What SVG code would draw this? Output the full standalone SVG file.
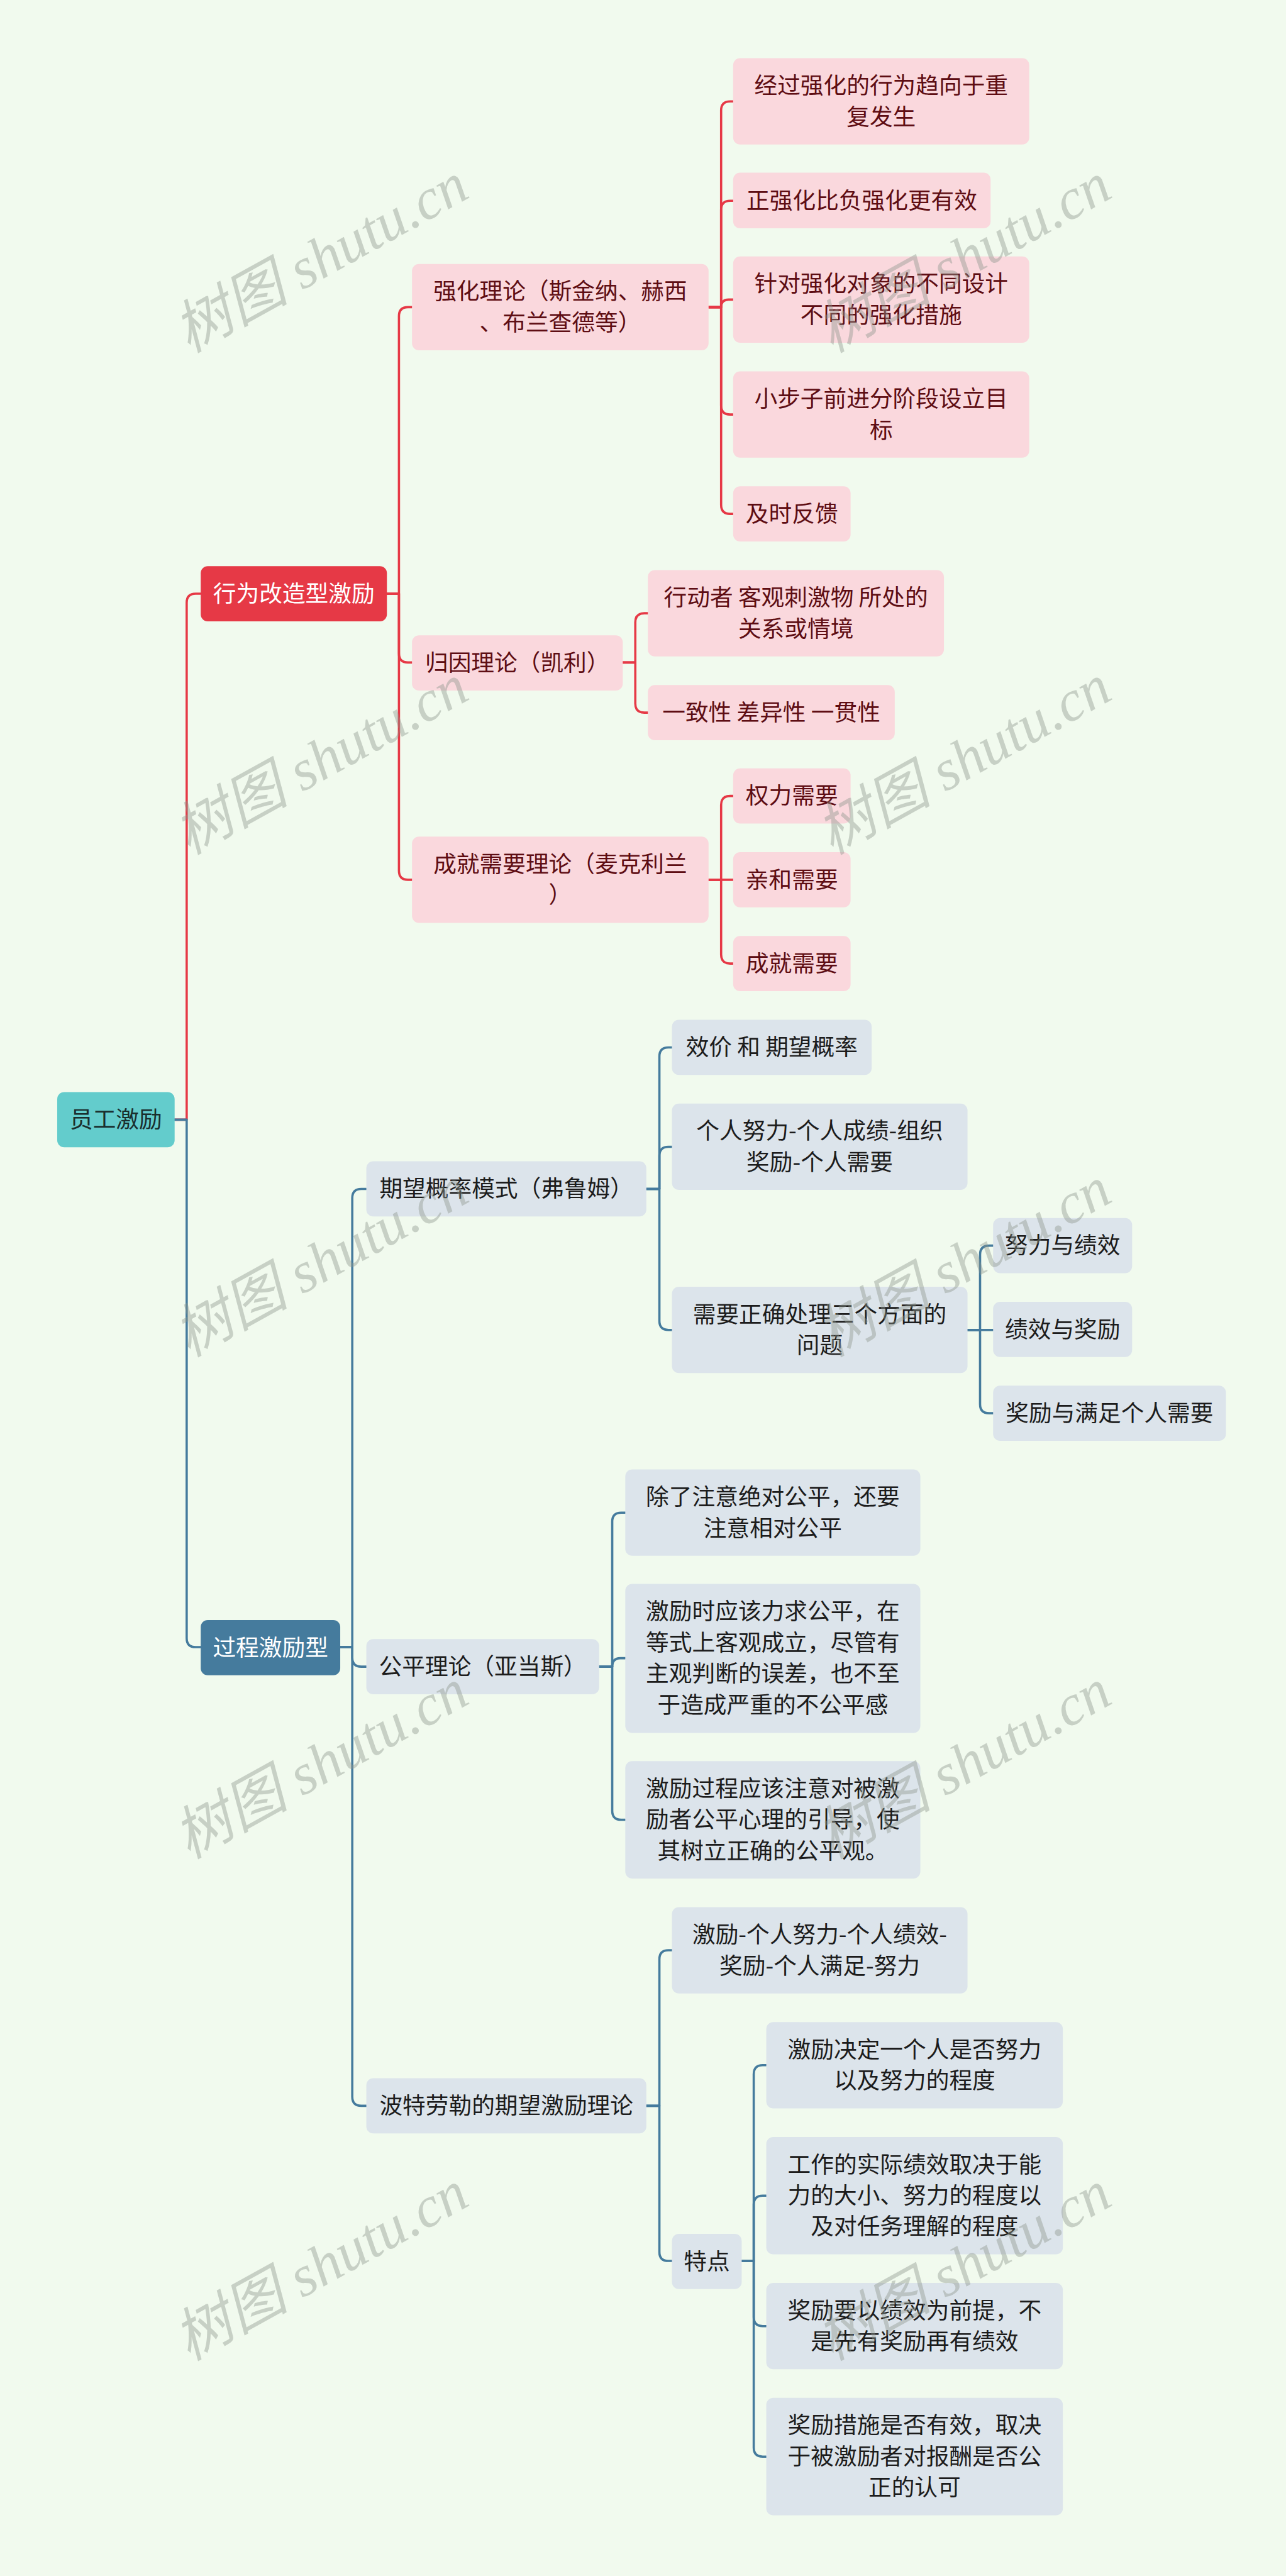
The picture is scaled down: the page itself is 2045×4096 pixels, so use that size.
<svg xmlns="http://www.w3.org/2000/svg" width="2045" height="4096" viewBox="0 0 2045 4096">
<style>
.bg{fill:#f1faee}
.c{fill:none;stroke-width:4.5;stroke-linecap:round;stroke-linejoin:round}
.cr{stroke:#e63946}
.cb{stroke:#457b9d}
.t{font-family:"Noto Sans CJK SC","Liberation Sans",sans-serif;font-size:46px;text-anchor:middle}
.root rect{fill:#63cccc}
.root text{fill:#1a2e2e}
.l1r rect{fill:#e63946}
.l1r text{fill:#ffffff}
.l1b rect{fill:#457b9d}
.l1b text{fill:#ffffff}
.pk rect{fill:#fad8dd}
.pk text{fill:#5e0d13}
.bl rect{fill:#dce4eb}
.bl text{fill:#1c1c1c}
.wm{font-family:"Liberation Serif","Noto Sans CJK SC",serif;font-style:italic;font-size:115px;fill:#8c968c;fill-opacity:0.42;text-anchor:middle}
</style>
<rect class="bg" x="0" y="0" width="2045" height="4096"/>
<g transform="scale(0.798)">
<g id="connectors">
<path class="c cr" d="M348 2231 H372 V1201 Q372 1183 390 1183 H400"/>
<path class="c cb" d="M348 2231 H372 V3264 Q372 3282 390 3282 H400"/>
<path class="c cr" d="M771 1183 H795 V630 Q795 612 813 612 H821"/>
<path class="c cr" d="M771 1183 H795 V1302 Q795 1320 813 1320 H821"/>
<path class="c cr" d="M771 1183 H795 V1735 Q795 1753 813 1753 H821"/>
<path class="c cr" d="M1412 612 H1437 V220 Q1437 202 1455 202 H1461"/>
<path class="c cr" d="M1412 612 H1437 V418 Q1437 400 1455 400 H1461"/>
<path class="c cr" d="M1412 612 H1437 Q1437 597 1452 597 H1461"/>
<path class="c cr" d="M1412 612 H1437 V808 Q1437 826 1455 826 H1461"/>
<path class="c cr" d="M1412 612 H1437 V1006 Q1437 1024 1455 1024 H1461"/>
<path class="c cr" d="M1241 1320 H1266 V1240 Q1266 1222 1284 1222 H1291"/>
<path class="c cr" d="M1241 1320 H1266 V1402 Q1266 1420 1284 1420 H1291"/>
<path class="c cr" d="M1412 1753 H1437 V1604 Q1437 1586 1455 1586 H1461"/>
<path class="c cr" d="M1412 1753 H1461"/>
<path class="c cr" d="M1412 1753 H1437 V1902 Q1437 1920 1455 1920 H1461"/>
<path class="c cb" d="M678 3282 H702 V2387 Q702 2369 720 2369 H730"/>
<path class="c cb" d="M678 3282 H702 V3303 Q702 3321 720 3321 H730"/>
<path class="c cb" d="M678 3282 H702 V4178 Q702 4196 720 4196 H730"/>
<path class="c cb" d="M1288 2369 H1314 V2105 Q1314 2087 1332 2087 H1339"/>
<path class="c cb" d="M1288 2369 H1314 V2303 Q1314 2285 1332 2285 H1339"/>
<path class="c cb" d="M1288 2369 H1314 V2632 Q1314 2650 1332 2650 H1339"/>
<path class="c cb" d="M1928 2650 H1953 V2500 Q1953 2482 1971 2482 H1979"/>
<path class="c cb" d="M1928 2650 H1979"/>
<path class="c cb" d="M1928 2650 H1953 V2798 Q1953 2816 1971 2816 H1979"/>
<path class="c cb" d="M1194 3321 H1220 V3032 Q1220 3014 1238 3014 H1246"/>
<path class="c cb" d="M1194 3321 H1220 Q1220 3304 1236 3304 H1246"/>
<path class="c cb" d="M1194 3321 H1220 V3608 Q1220 3626 1238 3626 H1246"/>
<path class="c cb" d="M1288 4196 H1314 V3904 Q1314 3886 1332 3886 H1339"/>
<path class="c cb" d="M1288 4196 H1314 V4487 Q1314 4505 1332 4505 H1339"/>
<path class="c cb" d="M1478 4505 H1502 V4133 Q1502 4115 1520 4115 H1527"/>
<path class="c cb" d="M1478 4505 H1502 V4393 Q1502 4375 1520 4375 H1527"/>
<path class="c cb" d="M1478 4505 H1502 V4617 Q1502 4635 1520 4635 H1527"/>
<path class="c cb" d="M1478 4505 H1502 V4877 Q1502 4895 1520 4895 H1527"/>
</g>

<g id="n-root" class="root"><rect x="114" y="2176" width="234" height="110" rx="14"/><text class="t" x="231" y="2247">员工激励</text></g>
<g id="n-xwgz" class="l1r"><rect x="400" y="1128" width="371" height="110" rx="14"/><text class="t" x="585.5" y="1199">行为改造型激励</text></g>
<g id="n-gcjl" class="l1b"><rect x="400" y="3228" width="278" height="110" rx="14"/><text class="t" x="539" y="3299">过程激励型</text></g>

<g id="n-qhll" class="pk"><rect x="821" y="526" width="591" height="172" rx="14"/><text class="t" x="1116.5" y="597">强化理论（斯金纳、赫西</text><text class="t" x="1116.5" y="659">、布兰查德等）</text></g>
<g id="n-gyll" class="pk"><rect x="821" y="1266" width="420" height="110" rx="14"/><text class="t" x="1031" y="1337">归因理论（凯利）</text></g>
<g id="n-cjxy" class="pk"><rect x="821" y="1667" width="591" height="172" rx="14"/><text class="t" x="1116.5" y="1738">成就需要理论（麦克利兰</text><text class="t" x="1116.5" y="1800">）</text></g>

<g id="n-q1" class="pk"><rect x="1461" y="116" width="590" height="172" rx="14"/><text class="t" x="1756" y="187">经过强化的行为趋向于重</text><text class="t" x="1756" y="249">复发生</text></g>
<g id="n-q2" class="pk"><rect x="1461" y="344" width="513" height="111" rx="14"/><text class="t" x="1717.5" y="416">正强化比负强化更有效</text></g>
<g id="n-q3" class="pk"><rect x="1461" y="511" width="590" height="172" rx="14"/><text class="t" x="1756" y="582">针对强化对象的不同设计</text><text class="t" x="1756" y="644">不同的强化措施</text></g>
<g id="n-q4" class="pk"><rect x="1461" y="740" width="590" height="172" rx="14"/><text class="t" x="1756" y="811">小步子前进分阶段设立目</text><text class="t" x="1756" y="873">标</text></g>
<g id="n-q5" class="pk"><rect x="1461" y="969" width="234" height="110" rx="14"/><text class="t" x="1578" y="1040">及时反馈</text></g>

<g id="n-g1" class="pk"><rect x="1291" y="1136" width="590" height="172" rx="14"/><text class="t" x="1586" y="1207">行动者 客观刺激物 所处的</text><text class="t" x="1586" y="1269">关系或情境</text></g>
<g id="n-g2" class="pk"><rect x="1291" y="1365" width="492" height="110" rx="14"/><text class="t" x="1537" y="1436">一致性 差异性 一贯性</text></g>

<g id="n-c1" class="pk"><rect x="1461" y="1531" width="234" height="110" rx="14"/><text class="t" x="1578" y="1602">权力需要</text></g>
<g id="n-c2" class="pk"><rect x="1461" y="1698" width="234" height="110" rx="14"/><text class="t" x="1578" y="1769">亲和需要</text></g>
<g id="n-c3" class="pk"><rect x="1461" y="1865" width="234" height="110" rx="14"/><text class="t" x="1578" y="1936">成就需要</text></g>

<g id="n-qwgl" class="bl"><rect x="730" y="2314" width="558" height="110" rx="14"/><text class="t" x="1009" y="2385">期望概率模式（弗鲁姆）</text></g>
<g id="n-gpll" class="bl"><rect x="730" y="3266" width="464" height="110" rx="14"/><text class="t" x="962" y="3337">公平理论（亚当斯）</text></g>
<g id="n-btll" class="bl"><rect x="730" y="4141" width="558" height="110" rx="14"/><text class="t" x="1009" y="4212">波特劳勒的期望激励理论</text></g>

<g id="n-e1" class="bl"><rect x="1339" y="2032" width="398" height="110" rx="14"/><text class="t" x="1538" y="2103">效价 和 期望概率</text></g>
<g id="n-e2" class="bl"><rect x="1339" y="2199" width="589" height="172" rx="14"/><text class="t" x="1633.5" y="2270">个人努力-个人成绩-组织</text><text class="t" x="1633.5" y="2332">奖励-个人需要</text></g>
<g id="n-e3" class="bl"><rect x="1339" y="2564" width="589" height="172" rx="14"/><text class="t" x="1633.5" y="2635">需要正确处理三个方面的</text><text class="t" x="1633.5" y="2697">问题</text></g>

<g id="n-s1" class="bl"><rect x="1979" y="2427" width="277" height="110" rx="14"/><text class="t" x="2117.5" y="2498">努力与绩效</text></g>
<g id="n-s2" class="bl"><rect x="1979" y="2594" width="277" height="110" rx="14"/><text class="t" x="2117.5" y="2665">绩效与奖励</text></g>
<g id="n-s3" class="bl"><rect x="1979" y="2761" width="464" height="110" rx="14"/><text class="t" x="2211" y="2832">奖励与满足个人需要</text></g>

<g id="n-f1" class="bl"><rect x="1246" y="2928" width="588" height="172" rx="14"/><text class="t" x="1540" y="2999">除了注意绝对公平，还要</text><text class="t" x="1540" y="3061">注意相对公平</text></g>
<g id="n-f2" class="bl"><rect x="1246" y="3156" width="588" height="297" rx="14"/><text class="t" x="1540" y="3227">激励时应该力求公平，在</text><text class="t" x="1540" y="3289">等式上客观成立，尽管有</text><text class="t" x="1540" y="3351">主观判断的误差，也不至</text><text class="t" x="1540" y="3413">于造成严重的不公平感</text></g>
<g id="n-f3" class="bl"><rect x="1246" y="3509" width="588" height="234" rx="14"/><text class="t" x="1540" y="3580">激励过程应该注意对被激</text><text class="t" x="1540" y="3642">励者公平心理的引导，使</text><text class="t" x="1540" y="3704">其树立正确的公平观。</text></g>

<g id="n-p1" class="bl"><rect x="1339" y="3800" width="589" height="172" rx="14"/><text class="t" x="1633.5" y="3871">激励-个人努力-个人绩效-</text><text class="t" x="1633.5" y="3933">奖励-个人满足-努力</text></g>
<g id="n-p2" class="bl"><rect x="1339" y="4451" width="139" height="110" rx="14"/><text class="t" x="1408.5" y="4522">特点</text></g>

<g id="n-d1" class="bl"><rect x="1527" y="4029" width="591" height="172" rx="14"/><text class="t" x="1822.5" y="4100">激励决定一个人是否努力</text><text class="t" x="1822.5" y="4162">以及努力的程度</text></g>
<g id="n-d2" class="bl"><rect x="1527" y="4258" width="591" height="234" rx="14"/><text class="t" x="1822.5" y="4329">工作的实际绩效取决于能</text><text class="t" x="1822.5" y="4391">力的大小、努力的程度以</text><text class="t" x="1822.5" y="4453">及对任务理解的程度</text></g>
<g id="n-d3" class="bl"><rect x="1527" y="4549" width="591" height="172" rx="14"/><text class="t" x="1822.5" y="4620">奖励要以绩效为前提，不</text><text class="t" x="1822.5" y="4682">是先有奖励再有绩效</text></g>
<g id="n-d4" class="bl"><rect x="1527" y="4778" width="591" height="234" rx="14"/><text class="t" x="1822.5" y="4849">奖励措施是否有效，取决</text><text class="t" x="1822.5" y="4911">于被激励者对报酬是否公</text><text class="t" x="1822.5" y="4973">正的认可</text></g>

<g id="watermarks">
<text class="wm" transform="translate(641 517) rotate(-29)" x="0" y="35">树图 shutu.cn</text>
<text class="wm" transform="translate(1922 517) rotate(-29)" x="0" y="35">树图 shutu.cn</text>
<text class="wm" transform="translate(641 1517) rotate(-29)" x="0" y="35">树图 shutu.cn</text>
<text class="wm" transform="translate(1922 1517) rotate(-29)" x="0" y="35">树图 shutu.cn</text>
<text class="wm" transform="translate(641 2518) rotate(-29)" x="0" y="35">树图 shutu.cn</text>
<text class="wm" transform="translate(1922 2518) rotate(-29)" x="0" y="35">树图 shutu.cn</text>
<text class="wm" transform="translate(641 3518) rotate(-29)" x="0" y="35">树图 shutu.cn</text>
<text class="wm" transform="translate(1922 3518) rotate(-29)" x="0" y="35">树图 shutu.cn</text>
<text class="wm" transform="translate(641 4518) rotate(-29)" x="0" y="35">树图 shutu.cn</text>
<text class="wm" transform="translate(1922 4518) rotate(-29)" x="0" y="35">树图 shutu.cn</text>
</g>
</g>
</svg>
